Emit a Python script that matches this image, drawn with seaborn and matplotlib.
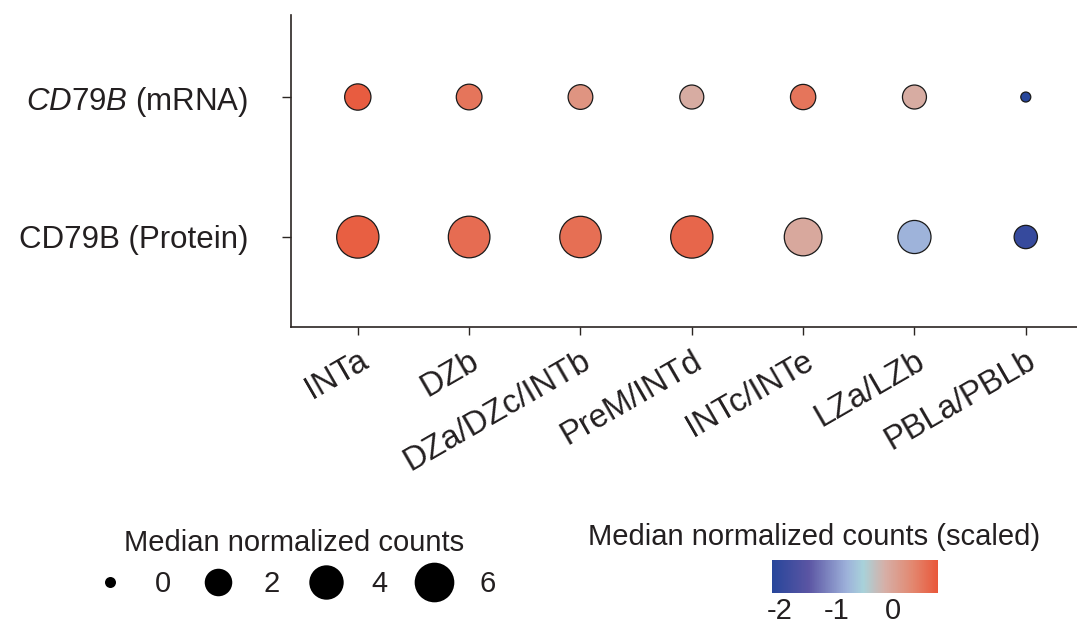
import numpy as np
import pandas as pd
import matplotlib
matplotlib.use("Agg")
import matplotlib.pyplot as plt
import seaborn as sns
from matplotlib.colors import LinearSegmentedColormap, Normalize
from matplotlib.lines import Line2D
import matplotlib.cm as cm

# ---------------- data ----------------
clusters = ["INTa", "DZb", "DZa/DZc/INTb", "PreM/INTd", "INTc/INTe", "LZa/LZb", "PBLa/PBLb"]
row_labels = [r"$\mathit{CD79B}$ (mRNA)", "CD79B (Protein)"]
mrna_counts = [1.94, 1.80, 1.58, 1.43, 1.71, 1.43, 0.0]
protein_counts = [7.6, 7.3, 7.2, 7.6, 5.6, 3.9, 1.3]
mrna_scaled = [0.75, 0.52, 0.2, -0.1, 0.52, -0.1, -2.14]
protein_scaled = [0.72, 0.6, 0.58, 0.66, -0.05, -0.8, -1.95]
legend_counts = [0, 2, 4, 6]
cbar_ticks = [-2, -1, 0]
cbar_range = (-2.14, 0.8)

# ---------------- style ----------------
sns.set_style("white")
plt.rcParams["font.family"] = ["Liberation Sans", "DejaVu Sans"]
plt.rcParams["mathtext.fontset"] = "custom"
plt.rcParams["mathtext.it"] = "Liberation Sans:italic"
plt.rcParams["mathtext.rm"] = "Liberation Sans"
TXT = "#231f20"

cmap = LinearSegmentedColormap.from_list(
    "scaled",
    [(0.0, "#27469b"), (0.22, "#5b55a3"), (0.45, "#9db1da"), (0.55, "#a8d2da"),
     (0.68, "#d6afa7"), (0.85, "#e3876f"), (1.0, "#e9573a")])
norm = Normalize(*cbar_range)


def diam_px(v):
    return 11.0 + 11.7 * np.sqrt(v)


def area_pt2(v):
    return (0.72 * (diam_px(np.asarray(v)) - 1.0)) ** 2


n = len(clusters)
df = pd.DataFrame({
    "x": list(range(n)) * 2,
    "y": [1] * n + [0] * n,
    "counts": mrna_counts + protein_counts,
    "scaled": mrna_scaled + protein_scaled,
})
df["area"] = area_pt2(df["counts"])
amin, amax = float(df["area"].min()), float(df["area"].max())

fig = plt.figure(figsize=(10.77, 6.24), dpi=100)
ax = fig.add_axes([291 / 1077, 1 - 327 / 624, (1077 - 291) / 1077, (327 - 15) / 624])

sns.scatterplot(data=df, x="x", y="y", hue="scaled", palette=cmap, hue_norm=norm,
                size="area", sizes=(amin, amax), size_norm=(amin, amax),
                edgecolor="#1a1a1a", linewidth=0.9, legend=False, ax=ax, zorder=3)

ax.set_xlim(-0.6, 6.46)
ax.set_ylim(-0.643, 1.586)
ax.set_xticks(range(n))
ax.set_xticklabels(clusters, rotation=30, ha="right", va="top", rotation_mode="anchor",
                   fontsize=23.5, color=TXT)
ax.set_yticks([1, 0])
ax.set_yticklabels(row_labels, fontsize=22.5, color=TXT)
ax.set_xlabel("")
ax.set_ylabel("")
for s in ["top", "right"]:
    ax.spines[s].set_visible(False)
for s in ["left", "bottom"]:
    ax.spines[s].set_color("#2b2522")
    ax.spines[s].set_linewidth(1.2)
ax.tick_params(axis="y", length=6.5, width=1.0, color="#2b2522", pad=24, left=True)
ax.tick_params(axis="x", length=6, width=1.0, color="#2b2522", pad=7, bottom=True)

# size legend
handles = [Line2D([], [], marker="o", linestyle="", color="black", markeredgewidth=0,
                  markersize=0.72 * diam_px(v)) for v in legend_counts]
leg = fig.legend(handles, [str(v) for v in legend_counts], ncol=4, frameon=False,
                 title="Median normalized counts", title_fontsize=21, fontsize=21,
                 loc="center", bbox_to_anchor=(0.273, 0.097),
                 handlelength=1.2, handletextpad=0.95, columnspacing=1.0)
leg._legend_box.sep = 10
for t in leg.get_texts():
    t.set_color(TXT)
leg.get_title().set_color(TXT)

# colorbar
cax = fig.add_axes([772 / 1077, 1 - 593 / 624, 166 / 1077, 33 / 624])
cb = fig.colorbar(cm.ScalarMappable(norm=norm, cmap=cmap), cax=cax,
                  orientation="horizontal", ticks=cbar_ticks)
cb.outline.set_visible(False)
cax.tick_params(axis="x", direction="in", length=4, width=1.0, color="white",
                labelsize=21, labelcolor=TXT, pad=3)
cax.set_xticklabels([str(t) for t in cbar_ticks])
fig.text(814 / 1077, 1 - 537 / 624, "Median normalized counts (scaled)", fontsize=21,
         ha="center", va="center", color=TXT)

fig.savefig("out.png", dpi=100)
